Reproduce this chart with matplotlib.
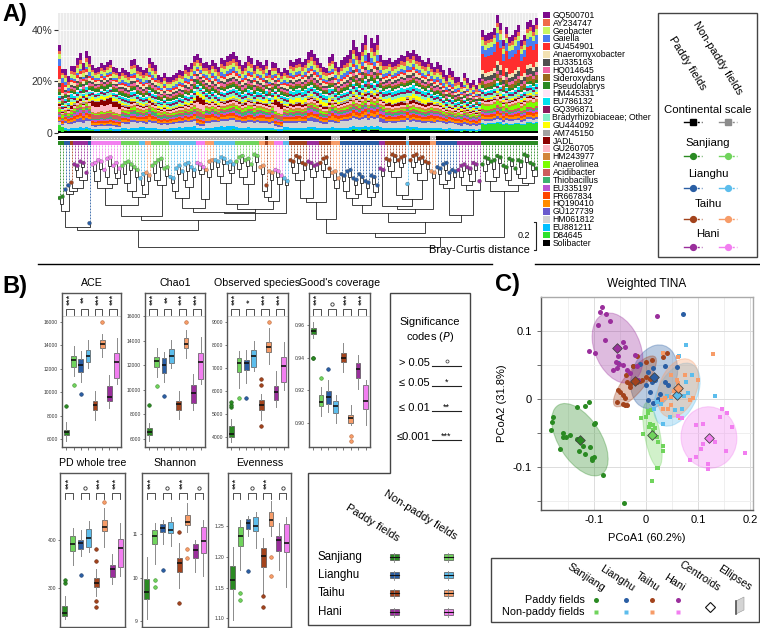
import numpy as np
import matplotlib.pyplot as plt
from matplotlib.patches import Rectangle, Ellipse, Polygon
import matplotlib.transforms as mtransforms

plt.rcParams['font.family'] = ['Liberation Sans', 'DejaVu Sans']

# ---------------- data ----------------
taxa = ['GQ500701', 'AY234747', 'Geobacter', 'Gaiella', 'GU454901', 'Anaeromyxobacter',
        'EU335163', 'HQ014645', 'Sideroxydans', 'Pseudolabrys', 'HM445331', 'EU786132',
        'GQ396871', 'Bradyrhizobiaceae; Other', 'GU444092', 'AM745150', 'JADL', 'GU260705',
        'HM243977', 'Anaerolinea', 'Acidibacter', 'Thiobacillus', 'EU335197', 'FR667834',
        'HQ190410', 'GU127739', 'HM061812', 'EU881211', 'D84645', 'Solibacter']
taxa_colors = ['#7d0a8c', '#f06a48', '#c9f562', '#4a7cf0', '#ff2e2e', '#f3e2b3',
               '#4f4f4f', '#f062a2', '#9a6a1c', '#2b8a22', '#ffe3f6', '#00e3ee',
               '#8b1a5c', '#82f0c8', '#ffff00', '#a2a2a2', '#8b0000', '#ffb8c4',
               '#d2853a', '#7cfc00', '#cd5c5c', '#3cb371', '#ba55d3', '#ff4500',
               '#ff8c00', '#6a5acd', '#d3d3d3', '#00bfff', '#2ee02e', '#000000']
# typical relative abundance (%) of each taxon
base_pct = [2.2, 1.3, 1.6, 1.0, 0.8, 1.1, 0.9, 0.9, 0.7, 1.0, 0.6, 0.8, 0.8, 1.0, 0.6,
            0.5, 0.5, 0.8, 0.7, 0.6, 0.7, 0.6, 0.6, 0.9, 0.8, 0.7, 2.0, 0.8, 0.4, 0.8]
site_override = {
    'SP': {'GU454901': 6.0, 'Gaiella': 3.0, 'EU335163': 1.8, 'Anaerolinea': 1.5, 'D84645': 2.5,
           'Sideroxydans': 1.5, 'Anaeromyxobacter': 1.6, 'Geobacter': 2.0, 'HM061812': 1.0,
           'GQ500701': 2.5, 'EU881211': 0.4},
    'HN': {'JADL': 2.5, 'GU260705': 2.5, 'Acidibacter': 2.0, 'GU444092': 1.2,
           'Pseudolabrys': 1.5, 'HM061812': 1.2},
    'TP': {'GU444092': 1.5, 'EU786132': 1.3, 'JADL': 0.9},
    'LP': {'Gaiella': 1.5, 'GQ500701': 3.0, 'HM061812': 2.5},
    'HP': {'GQ500701': 2.5, 'EU335197': 1.0, 'GU127739': 1.2},
    'LN': {'EU881211': 1.2, 'Gaiella': 1.2},
    'TN': {'FR667834': 1.2, 'HQ190410': 1.2},
    'SN': {'Thiobacillus': 0.9, 'Anaerolinea': 0.8},
}
site_colors = {'SP': '#2a8a22', 'SN': '#70d45c', 'LP': '#2a5ea4', 'LN': '#5cbdec',
               'TP': '#a3431c', 'TN': '#f79c68', 'HP': '#9a2e9c', 'HN': '#f27ef0'}
site_order = ['SP', 'SN', 'LP', 'LN', 'TP', 'TN', 'HP', 'HN']

# sample order along the dendrogram (run-length encoded)
site_runs = [('SP', 2), ('LP', 2), ('TP', 1), ('HP', 5), ('LP', 1), ('HN', 10), ('SN', 6),
             ('LN', 2), ('TN', 2), ('SN', 6), ('LN', 9), ('HN', 3), ('TN', 3), ('LN', 7),
             ('SN', 8), ('TN', 2), ('TP', 1), ('TN', 2), ('HN', 3), ('LN', 2), ('TP', 6),
             ('HP', 4), ('TP', 4), ('TN', 3), ('LP', 13), ('HP', 2), ('TP', 7), ('LN', 1),
             ('TP', 7), ('TN', 2), ('LP', 7), ('HP', 8), ('SP', 19)]
# summed relative abundance (%) of the 30 taxa per sample
bar_totals = [34, 25, 25, 22, 26, 26, 29, 31, 27, 32, 30,
              26.4, 25.2, 25.6, 27.2, 26.4, 27.6, 28.4, 25.6, 25.2, 23.7,
              25.2, 24.5, 23.7, 28.4, 28.8, 26.4, 25.6, 24.5, 25.2, 29,
              27.6, 26.4, 22.5, 21.7, 23.3, 21.7,
              21.7, 22.5, 23.3, 24.5, 24.1, 26.4, 25.6, 27.2, 29.8,
              30.5, 29, 27.2, 27.6, 26.4, 28.4,
              27.2, 25.6, 29, 28.4, 29.8, 30.5, 31.3,
              29.8, 28.4, 26.4, 27.6, 29.8, 29, 26.4, 28.4,
              27.6, 26.4, 28.4, 24.5, 27.6, 27.2, 25.2, 23.7, 25.2, 24.5,
              28.4, 27.6, 28.8, 29.2, 27.6, 28.8, 31.3, 32.4, 30.5, 29.2,
              27.2, 25.6, 25.2, 29.5, 30.5, 27.6, 25.6,
              28.4, 29.5, 30.3, 32.2, 36.1, 33.4, 31.5, 35, 38, 31, 36.9, 35, 38,
              30.3, 28.4, 28.4, 29.1, 27.6, 28.4, 29.1, 30.3, 29.8, 32,
              31.1, 32.4, 30.5, 29.8, 28.4, 27.6, 29.1, 27.2, 25.6,
              27.6, 26.4, 24.5, 22.5, 25.2, 24.1, 21.7,
              21.7, 19.8, 23.3, 21.4, 19.4, 20.6, 18.6, 21.4,
              40, 38.1, 38.8, 39.2, 40.8, 45.8, 42.7, 36.1, 41.1, 37.3,
              38.1, 40, 41.9, 36.1, 38.1, 43.1, 43.9, 41.9, 44.7]

# dendrogram: merge height (Bray-Curtis distance x100 above root) between neighbouring samples
join_h = [31, 26, 38, 40, 42, 55, 50, 57, 48, 14, 12,
          54, 47, 56, 42, 50, 58, 45, 53, 49, 30,
          52, 46, 55, 40, 50, 36, 44, 38, 47, 22,
          53, 48, 57, 44, 51, 19,
          46, 40, 52, 35, 48, 54, 43, 50, 28,
          55, 52, 34, 50, 56, 25,
          57, 51, 59, 46, 55, 53, 31,
          56, 60, 50, 58, 45, 54, 61, 27,
          52, 40, 36, 48, 33, 50, 45, 24, 44, 0,
          57, 53, 60, 48, 55, 35, 56, 50, 54, 32, 55, 59, 50, 20, 48, 42, 10,
          47, 40, 50, 35, 44, 38, 46, 30, 42, 36, 45, 39, 24,
          51, 29, 58, 54, 61, 50, 57, 60, 37, 34,
          57, 61, 53, 59, 48, 56, 27, 49, 18,
          52, 45, 55, 48, 42, 50, 23,
          50, 54, 44, 52, 47, 55, 41, 7,
          54, 59, 47, 56, 50, 60, 40, 53, 48, 58, 44, 52, 57, 49, 61, 46, 55, 51]
# height of each leaf tip
leaf_h = [35, 36, 41, 44, 46, 59, 58, 61, 60, 53, 17,
          59, 60, 62, 61, 55, 63, 64, 58, 60, 56,
          58, 60, 61, 59, 57, 55, 49, 52, 53, 51,
          58, 60, 62, 63, 56, 57,
          50, 49, 56, 58, 54, 59, 60, 57, 55,
          60, 59, 57, 55, 61, 62,
          62, 61, 64, 63, 60, 61, 59,
          61, 64, 65, 62, 63, 59, 66, 65,
          57, 58, 44, 54, 53, 55, 54, 51, 49, 47,
          62, 61, 65, 64, 60, 59, 61, 60, 58, 59, 60, 63, 64, 56, 53, 54, 49,
          52, 51, 54, 55, 49, 48, 52, 50, 47, 46, 51, 50, 44,
          56, 55, 63, 62, 66, 65, 62, 64, 65, 45,
          62, 65, 66, 63, 64, 61, 60, 54, 53,
          57, 56, 59, 60, 53, 55, 54,
          55, 58, 59, 57, 56, 60, 59, 47,
          59, 64, 63, 61, 62, 65, 64, 58, 57, 63, 62, 56, 62, 61, 66, 65, 60, 59, 56]

# alpha diversity boxplot statistics: (whisker low, q1, median, q3, whisker high, outliers)
# order: Sanjiang P/NP, Lianghu P/NP, Taihu P/NP, Hani P/NP
ace_stats = [(5800, 6370, 6600, 6800, 7450, [8850]), (11350, 12150, 12780, 13120, 13920, [10600]),
             (10850, 11730, 12350, 12840, 13500, [9880]), (12070, 12580, 13070, 13640, 14500, []),
             (7650, 8510, 8930, 9220, 10070, []), (13000, 13780, 14120, 14430, 15000, [16000]),
             (8650, 9220, 9560, 10560, 11500, []), (10730, 11210, 12580, 13350, 14660, [])]
chao1_stats = [(5870, 6330, 6540, 6870, 7270, [8760]), (11070, 11830, 12370, 12700, 13370, [10340]),
               (10660, 11340, 12020, 12560, 13100, [9500]), (11750, 12150, 12750, 13290, 14050, []),
               (7600, 8360, 8820, 9120, 9900, []), (12560, 13430, 13700, 14210, 14860, [15540]),
               (8360, 8950, 9770, 10390, 11280, []), (10470, 10850, 12290, 12960, 14320, [])]
obs_stats = [(3810, 4000, 4150, 4490, 4780, [5330, 5400, 5550]), (6130, 6860, 7220, 7430, 7770, [5700]),
             (6350, 6930, 7250, 7360, 7800, [5700]), (6900, 7040, 7540, 7800, 8200, []),
             (4750, 5190, 5400, 5620, 5900, [6270, 6520, 4470]), (7170, 7720, 7940, 8160, 8740, [9030]),
             (5300, 5620, 5970, 6230, 6900, []), (6060, 6420, 7100, 7510, 8160, [])]
goods_stats = [(0.9518, 0.9545, 0.9565, 0.958, 0.9616, [0.940, 0.9395]),
               (0.9041, 0.910, 0.9129, 0.917, 0.9221, [0.9277]),
               (0.9068, 0.9113, 0.9156, 0.9197, 0.926, [0.9328]),
               (0.8996, 0.9058, 0.9103, 0.9135, 0.917, []),
               (0.9313, 0.9371, 0.940, 0.9426, 0.9487, []),
               (0.8986, 0.8996, 0.9027, 0.9047, 0.9109, [0.8918, 0.8888]),
               (0.9209, 0.9272, 0.933, 0.9369, 0.9416, []),
               (0.8986, 0.9084, 0.9135, 0.9232, 0.9262, [])]
pd_stats = [(236, 242.8, 248.3, 263.4, 284, [312, 317]), (348, 377, 391.7, 409, 424, []),
            (367, 381, 394.5, 400, 420.7, [327]), (376, 385, 404.8, 422, 440, []),
            (284, 302, 311.7, 320.7, 341, [382, 357, 273, 261]), (386, 419, 427.6, 441, 466, [478]),
            (310, 323, 339, 348, 372, []), (325.5, 345, 384, 403, 434.5, [])]
shannon_stats = [(9.05, 9.51, 9.68, 9.966, 10.48, []), (10.31, 10.78, 10.96, 11.11, 11.26, [9.95, 9.78]),
                 (10.78, 11.05, 11.14, 11.23, 11.34, [10.18]), (10.74, 11.04, 11.1, 11.29, 11.41, []),
                 (9.75, 10.12, 10.33, 10.46, 10.81, [11.05, 9.42]),
                 (11.06, 11.21, 11.29, 11.46, 11.72, [10.66, 10.46]),
                 (10.12, 10.46, 10.65, 10.77, 10.87, []), (10.03, 10.58, 10.85, 11.17, 11.34, [])]
even_stats = [(1.097, 1.148, 1.162, 1.185, 1.216, []), (1.178, 1.217, 1.233, 1.249, 1.259, [1.141, 1.130]),
              (1.233, 1.245, 1.254, 1.262, 1.266, [1.177]), (1.214, 1.241, 1.25, 1.265, 1.273, []),
              (1.140, 1.184, 1.201, 1.215, 1.230, [1.136, 1.119]),
              (1.233, 1.25, 1.26, 1.273, 1.29, [1.199, 1.1685]),
              (1.179, 1.21, 1.227, 1.234, 1.254, []), (1.151, 1.208, 1.223, 1.253, 1.264, [])]
# paddy vs non-paddy significance per region (Sanjiang, Lianghu, Taihu, Hani)
sig_ace = ['***', '**', '***', '***']
sig_chao1 = ['***', '**', '***', '***']
sig_obs = ['***', '*', '***', '***']
sig_goods = ['***', 'o', '***', '***']
sig_pd = ['***', 'o', '***', '***']
sig_shannon = ['***', 'o', '***', 'o']
sig_even = ['***', 'o', '***', 'o']

# PCoA coordinates (weighted TINA)
sp_pts = [(-0.179, -0.027), (-0.181, -0.033), (-0.183, -0.045), (-0.165, -0.074), (-0.160, -0.050),
          (-0.154, -0.055), (-0.147, -0.053), (-0.159, -0.056), (-0.132, -0.011), (-0.117, -0.010),
          (-0.109, -0.005), (-0.100, -0.036), (-0.098, -0.035), (-0.122, -0.069), (-0.128, -0.077),
          (-0.117, -0.081), (-0.108, -0.071), (-0.104, -0.087), (-0.103, -0.090), (-0.100, -0.085),
          (-0.083, -0.112), (-0.042, -0.152), (-0.132, -0.059)]
sn_pts = [(-0.010, -0.028), (-0.006, -0.051), (0.001, -0.026), (0.004, -0.021), (0.008, -0.036),
          (0.013, -0.038), (0.017, -0.043), (0.021, -0.055), (0.024, -0.063), (0.033, -0.077),
          (0.032, -0.069), (0.021, -0.102), (0.024, -0.101), (0.012, -0.120), (0.003, -0.017),
          (0.005, -0.041), (0.014, -0.046), (0.009, -0.016)]
lp_pts = [(0.072, 0.125), (0.037, 0.049), (0.059, 0.047), (0.014, 0.045), (-0.024, 0.049),
          (-0.053, 0.053), (0.004, 0.040), (0.011, 0.025), (0.017, 0.028), (0.001, 0.021),
          (0.008, 0.011), (0.004, -0.002), (0.014, -0.006), (0.024, 0.000), (0.037, 0.025),
          (0.043, 0.021), (0.027, 0.008), (-0.012, 0.052)]
ln_pts = [(0.077, 0.080), (0.064, 0.063), (0.133, 0.004), (0.033, -0.036), (0.046, -0.026),
          (0.056, -0.016), (0.059, 0.003), (0.081, 0.009), (0.073, 0.004), (0.028, -0.007),
          (0.040, 0.004), (0.049, 0.001), (0.069, -0.014), (0.021, -0.004), (0.016, -0.014),
          (0.078, 0.025), (0.088, 0.035)]
tp_pts = [(0.040, 0.068), (0.033, 0.062), (0.011, 0.057), (0.001, 0.055), (-0.018, 0.063),
          (-0.038, 0.035), (-0.037, 0.025), (-0.031, 0.022), (-0.018, 0.025), (-0.012, 0.027),
          (-0.008, 0.028), (-0.053, 0.013), (-0.050, 0.011), (-0.044, 0.006), (-0.040, 0.002),
          (-0.056, -0.005), (-0.045, -0.007), (-0.040, -0.009), (-0.037, -0.009), (-0.031, 0.018),
          (0.001, 0.033), (0.008, 0.030), (-0.024, 0.048)]
tn_pts = [(0.062, 0.062), (0.129, 0.066), (0.101, 0.028), (0.075, 0.035), (0.049, 0.035),
          (0.059, 0.028), (0.062, 0.024), (0.065, 0.013), (0.053, 0.012), (0.049, 0.003),
          (0.037, 0.002), (0.030, -0.002), (0.033, -0.014), (0.043, -0.014), (0.049, -0.009),
          (0.065, -0.028), (0.085, -0.002), (0.091, 0.001), (0.033, 0.067)]
hp_pts = [(-0.088, 0.128), (-0.076, 0.125), (-0.092, 0.109), (-0.069, 0.114), (-0.079, 0.087),
          (-0.044, 0.084), (-0.040, 0.077), (-0.109, 0.071), (-0.098, 0.068), (-0.053, 0.063),
          (-0.058, 0.055), (-0.051, 0.052), (-0.045, 0.050), (-0.063, 0.043), (-0.056, 0.045),
          (-0.037, 0.043), (-0.031, 0.038), (-0.021, 0.065), (-0.018, 0.048), (-0.015, 0.028),
          (0.022, 0.122), (-0.085, 0.135)]
hn_pts = [(0.146, -0.015), (0.165, -0.041), (0.155, -0.021), (0.097, -0.085), (0.106, -0.074),
          (0.110, -0.066), (0.120, -0.103), (0.120, -0.095), (0.154, -0.076), (0.190, -0.079),
          (0.085, -0.090), (0.069, -0.028), (0.062, -0.025), (0.142, -0.026), (0.110, -0.036),
          (0.133, -0.063), (0.097, -0.038)]

# ---------------- layout helpers ----------------
W, H = 760, 628
fig = plt.figure(figsize=(7.6, 6.28), dpi=100)


def px_axes(x0, y0, x1, y1):
    return fig.add_axes([x0 / W, 1 - y1 / H, (x1 - x0) / W, (y1 - y0) / H])


sites = [s for s, n in site_runs for _ in range(n)]
N = len(sites)
assert len(bar_totals) == N and len(leaf_h) == N and len(join_h) == N - 1
xs = np.arange(N)

# ---------------- A) stacked bars ----------------
axA = px_axes(58, 13, 538, 133)
axA.set_facecolor('#ebebeb')
profiles = {}
for s in site_order:
    p = np.array([site_override.get(s, {}).get(t, b) for t, b in zip(taxa, base_pct)])
    profiles[s] = p / p.sum()
comp = np.array([profiles[s] * tot for s, tot in zip(sites, bar_totals)])
bottom = np.zeros(N)
for k in range(len(taxa) - 1, -1, -1):
    axA.bar(xs, comp[:, k], bottom=bottom, width=1.0, color=taxa_colors[k], linewidth=0)
    bottom += comp[:, k]
axA.set_xlim(-0.5, N - 0.5)
axA.set_ylim(0, 46.6)
axA.set_yticks([0, 20, 40])
axA.set_yticklabels(['0', '20%', '40%'], fontsize=7.5, color='#333')
axA.set_yticks([10, 30], minor=True)
axA.set_xticks(xs)
axA.tick_params(axis='x', length=0, labelbottom=False)
axA.tick_params(axis='y', which='major', length=3, color='#333', pad=1)
axA.tick_params(axis='y', which='minor', length=0)
axA.grid(axis='x', color='white', lw=0.5)
axA.grid(axis='y', which='both', color='white', lw=0.6)
axA.set_axisbelow(True)
for sp in axA.spines.values():
    sp.set_visible(False)

# ---------------- A) dendrogram ----------------
axT = px_axes(58, 133, 538, 252)
axT.set_xlim(-0.5, N - 0.5)
axT.set_ylim(-3.57, 81.43)
axT.axis('off')
paddy = np.array([s.endswith('P') for s in sites])
axT.bar(xs, 2.9, bottom=76.4, width=1.0, linewidth=0,
        color=['#000000' if p else '#b4b4b4' for p in paddy])
axT.scatter(xs[~paddy], np.full((~paddy).sum(), 77.85), s=0.4, c='white', lw=0)
axT.bar(xs, 2.5, bottom=73.2, width=1.0, linewidth=0, color=[site_colors[s] for s in sites])
for i in range(N):
    axT.plot([i, i], [73.2, leaf_h[i]], color=site_colors[sites[i]], lw=0.6,
             ls=(0, (2.2, 1.4)))


def draw_clade(a, b):
    if a == b:
        return float(a), leaf_h[a]
    k = a + int(np.argmin(join_h[a:b]))
    h = join_h[k]
    lx, ly = draw_clade(a, k)
    rx, ry = draw_clade(k + 1, b)
    axT.plot([lx, lx, rx, rx], [ly, h, h, ry], color='#222', lw=0.6,
             solid_joinstyle='miter')
    return (lx + rx) / 2, h


draw_clade(0, N - 1)
axT.scatter(xs, leaf_h, s=8, c=[site_colors[s] for s in sites], edgecolors='#555',
            linewidths=0.2, zorder=3)
axT.plot([158.2, 158.8, 158.8, 158.2], [-2.1, -2.1, 17.9, 17.9], color='#222', lw=0.8,
         clip_on=False)
axT.text(156.8, 7.9, '0.2', fontsize=6.5, ha='right', va='center')
axT.text(156.8, -2.1, 'Bray-Curtis distance', fontsize=8, ha='right', va='center')

# ---------------- B) boxplots ----------------
box_panels = [
    ('ACE', ace_stats, sig_ace, (62, 293, 121, 447), (5316, 18480), range(6000, 16001, 2000), '%d'),
    ('Chao1', chao1_stats, sig_chao1, (145, 293, 205, 447), (5350, 17870), range(6000, 16001, 2000), '%d'),
    ('Observed species', obs_stats, sig_obs, (227, 293, 288, 447), (3578, 10275), range(4000, 9001, 1000), '%d'),
    ("Good's coverage", goods_stats, sig_goods, (309, 293, 370, 447), (0.8851, 0.9797), [0.90, 0.92, 0.94, 0.96], '%.2f'),
    ('PD whole tree', pd_stats, sig_pd, (60, 473, 125, 627), (220, 538.7), [300, 400], '%d'),
    ('Shannon', shannon_stats, sig_shannon, (142, 473, 208, 627), (8.86, 12.42), [9, 10, 11], '%d'),
    ('Evenness', even_stats, sig_even, (228, 473, 291, 627), (1.0859, 1.336), [1.10, 1.15, 1.20, 1.25], '%.2f'),
]
dark_edge = {'SP': '#1d5e18', 'SN': '#3e8f30', 'LP': '#1b3d6c', 'LN': '#2f7aa6',
             'TP': '#6b2a10', 'TN': '#b8683a', 'HP': '#631c66', 'HN': '#b04cae'}
for title, stats, sig, (x0, y0, x1, y1), ylim, ticks, fmt in box_panels:
    ax = px_axes(x0, y0, x1, y1)
    bxp = [dict(whislo=s[0], q1=s[1], med=s[2], q3=s[3], whishi=s[4], fliers=s[5]) for s in stats]
    res = ax.bxp(bxp, positions=range(1, 9), widths=0.62, patch_artist=True, showcaps=False,
                 boxprops=dict(edgecolor='#555', lw=0.5),
                 medianprops=dict(color='#111', lw=1.2),
                 whiskerprops=dict(color='#8a8a8a', lw=0.7),
                 flierprops=dict(marker='o', markersize=2.6, markeredgewidth=0.4))
    for patch, s in zip(res['boxes'], site_order):
        patch.set_facecolor(site_colors[s])
    for fl, s in zip(res['fliers'], site_order):
        fl.set_markerfacecolor(site_colors[s])
        fl.set_markeredgecolor(dark_edge[s])
    ax.set_xlim(0.4, 8.6)
    ax.set_ylim(*ylim)
    ax.set_yticks(list(ticks))
    ax.set_yticklabels([fmt % t for t in ticks], fontsize=3.6, color='#333')
    ax.set_xticks(range(1, 9))
    ax.set_xticklabels([])
    ax.tick_params(axis='both', length=1.8, width=0.5, color='#444', pad=1)
    for sp in ax.spines.values():
        sp.set_color('#555')
        sp.set_linewidth(1.0)
    blend = mtransforms.blended_transform_factory(ax.transData, ax.transAxes)
    row1 = y0 < 400
    top_f, leg_f, star_f = (0.896, 0.857, 0.960) if row1 else (0.870, 0.831, 0.934)
    if row1:
        ax.plot([0.4, 8.6], [0.851, 0.851], transform=blend, color='#cfcfcf', lw=0.6)
    for j, mark in enumerate(sig):
        a, b = 2 * j + 1, 2 * j + 2
        ax.plot([a, a, b, b], [leg_f, top_f, top_f, leg_f], transform=blend, color='#333', lw=0.6)
        if mark == 'o':
            ax.plot([(a + b) / 2], [top_f + 0.03], transform=blend, marker='o', ms=2.4,
                    mfc='none', mec='#333', mew=0.6)
        else:
            ax.text((a + b) / 2, star_f if len(mark) == 3 else top_f + 0.035 + 0.014 * len(mark),
                    mark, transform=blend, rotation=90, fontsize=6.8, ha='center', va='center')
    fig.text((x0 + x1) / 2 / W, 1 - (y0 - 10) / H, title, fontsize=7.7, ha='center', va='center')

# ---------------- C) PCoA ----------------
axC = px_axes(541, 297, 753, 510)
groups = [('SP', sp_pts, 'o'), ('SN', sn_pts, 's'), ('LP', lp_pts, 'o'), ('LN', ln_pts, 's'),
          ('TP', tp_pts, 'o'), ('TN', tn_pts, 's'), ('HP', hp_pts, 'o'), ('HN', hn_pts, 's')]
for s, pts, mk in groups:
    arr = np.array(pts)
    cx, cy = arr.mean(axis=0)
    vals, vecs = np.linalg.eigh(np.cov(arr.T))
    ang = np.degrees(np.arctan2(vecs[1, 1], vecs[0, 1]))
    ell = Ellipse((cx, cy), 2 * 1.55 * np.sqrt(vals[1]), 2 * 1.55 * np.sqrt(vals[0]), angle=ang,
                  facecolor=site_colors[s], edgecolor=site_colors[s], alpha=0.32, lw=0.8, zorder=1)
    axC.add_patch(ell)
for s, pts, mk in groups:
    arr = np.array(pts)
    axC.scatter(arr[:, 0], arr[:, 1], s=13 if mk == 'o' else 11, marker=mk, c=site_colors[s],
                lw=0, zorder=2)
for s, pts, mk in groups:
    cx, cy = np.array(pts).mean(axis=0)
    axC.scatter([cx], [cy], marker='D', s=24, c=site_colors[s], edgecolors='#444', lw=0.6, zorder=3)
axC.set_xlim(-0.202, 0.206)
axC.set_ylim(-0.163, 0.150)
axC.set_xticks([-0.1, 0, 0.1, 0.2])
axC.set_xticklabels(['-0.1', '0', '0.1', '0.2'], fontsize=8)
axC.set_yticks([-0.1, 0, 0.1])
axC.set_yticklabels(['-0.1', '0', '0.1'], fontsize=8)
axC.set_xticks([-0.15, -0.05, 0.05, 0.15], minor=True)
axC.set_yticks([-0.15, -0.05, 0.05], minor=True)
axC.grid(which='major', color='#dcdcdc', lw=0.7)
axC.grid(which='minor', color='#ececec', lw=0.6)
axC.set_axisbelow(True)
axC.tick_params(which='both', length=3, color='#555', width=0.6)
axC.tick_params(axis='x', which='both', length=0)
for name, sp in axC.spines.items():
    sp.set_color('#555' if name in ('left', 'bottom') else '#aaaaaa')
    sp.set_linewidth(1.0)
axC.set_xlabel('PCoA1 (60.2%)', fontsize=8, labelpad=6)
axC.set_ylabel('PCoA2 (31.8%)', fontsize=8, labelpad=4)
axC.set_title('Weighted TINA', fontsize=8.5, pad=7)

# ---------------- overlay: labels, legends, frames ----------------
ov = fig.add_axes([0, 0, 1, 1])
ov.set_xlim(0, W)
ov.set_ylim(H, 0)
ov.axis('off')
ov.set_zorder(10)
ov.patch.set_visible(False)

for lab, (x, y) in zip(['A)', 'B)', 'C)'], [(2, 15), (2, 287), (495, 284)]):
    ov.text(x, y, lab, fontsize=17, fontweight='bold', ha='left', va='center')
ov.plot([38, 492], [264, 264], color='k', lw=1)
ov.plot([535, 760], [264, 264], color='k', lw=1)

# taxa legend
for k, (t, c) in enumerate(zip(taxa, taxa_colors)):
    y = 15 + 7.86 * k
    ov.add_patch(Rectangle((543, y - 3.4), 7, 6.8, facecolor=c, edgecolor='none'))
    ov.text(552.5, y + 0.3, t, fontsize=6.2, ha='left', va='center')

# A legend box
ov.add_patch(Rectangle((658, 13), 99, 244, fill=False, edgecolor='#444', lw=1))
ov.text(667, 40, 'Paddy fields', rotation=-58, rotation_mode='anchor', fontsize=8,
        ha='left', va='bottom')
ov.text(691, 25, 'Non-paddy fields', rotation=-58, rotation_mode='anchor', fontsize=8,
        ha='left', va='bottom')
legA = [('Continental scale', '#000000', '#8c8c8c', 's'),
        ('Sanjiang', site_colors['SP'], site_colors['SN'], 'o'),
        ('Lianghu', site_colors['LP'], site_colors['LN'], 'o'),
        ('Taihu', site_colors['TP'], site_colors['TN'], 'o'),
        ('Hani', site_colors['HP'], site_colors['HN'], 'o')]
for (lab, c1, c2, mk), yl, ym in zip(legA, [110, 143, 174, 204, 234], [122, 156, 188, 219, 247]):
    ov.text(708, yl, lab, fontsize=8.2, ha='center', va='center')
    for xm, c in ((693, c1), (728, c2)):
        ov.plot([xm - 9, xm], [ym, ym], color=c, lw=1.0)
        ov.plot([xm, xm + 9], [ym, ym], color=c, lw=1.0, ls=(0, (1.5, 1.5)))
        ov.plot([xm], [ym], marker=mk, ms=4.2, color=c, mec=c)

# B significance codes + legend frame
ov.add_patch(Polygon([(390, 293), (470, 293), (470, 625), (308, 625), (308, 473), (390, 473)],
                     closed=True, fill=False, edgecolor='#444', lw=1))
ov.text(430, 322, 'Significance', fontsize=8, ha='center', va='center')
ov.text(430, 337, 'codes ($\\it{P}$)', fontsize=8, ha='center', va='center')
for lab, mark, yt in [('> 0.05', 'o', 363), ('\u2264 0.05', '*', 383),
                      ('\u2264 0.01', '**', 408), ('\u22640.001', '***', 437)]:
    ov.text(430, yt, lab, fontsize=8, ha='right', va='center')
    ov.plot([432, 461], [yt + 3, yt + 3], color='#222', lw=0.8)
    if mark == 'o':
        ov.plot([446.5], [yt - 2.5], marker='o', ms=2.2, mfc='none', mec='#333', mew=0.5)
    else:
        ov.text(446.5, yt - 0.5, mark, fontsize=6.5, ha='center', va='center')
ov.text(344, 511, 'Paddy fields', rotation=-32, rotation_mode='anchor', fontsize=8,
        ha='left', va='bottom')
ov.text(382, 497, 'Non-paddy fields', rotation=-32, rotation_mode='anchor', fontsize=8,
        ha='left', va='bottom')
for s1, s2, lab, y in [('SP', 'SN', 'Sanjiang', 557), ('LP', 'LN', 'Lianghu', 575),
                       ('TP', 'TN', 'Taihu', 593), ('HP', 'HN', 'Hani', 612)]:
    ov.text(318, y, lab, fontsize=8.3, ha='left', va='center')
    for xm, s in ((394, s1), (448, s2)):
        ov.plot([xm, xm], [y - 4.5, y + 4.5], color='#888', lw=0.6)
        ov.add_patch(Rectangle((xm - 4.5, y - 3), 9, 6, facecolor=site_colors[s],
                               edgecolor='#555', lw=0.5))
        ov.plot([xm - 4.5, xm + 4.5], [y, y], color='#111', lw=0.8)

# C legend
ov.add_patch(Rectangle((491, 558), 268, 64, fill=False, edgecolor='#444', lw=1))
for lab, xe in [('Sanjiang', 601), ('Lianghu', 631), ('Taihu', 656), ('Hani', 681),
                ('Centroids', 717), ('Ellipses', 748)]:
    ov.text(xe, 593, lab, rotation=-33, rotation_mode='anchor', fontsize=7.8,
            ha='right', va='bottom')
ov.text(585, 600, 'Paddy fields', fontsize=7.8, ha='right', va='center')
ov.text(585, 612, 'Non-paddy fields', fontsize=7.8, ha='right', va='center')
for (p, npd), xm in zip([('SP', 'SN'), ('LP', 'LN'), ('TP', 'TN'), ('HP', 'HN')],
                        [596, 626, 652, 678]):
    ov.plot([xm], [600], marker='o', ms=3.6, color=site_colors[p], mec='none')
    ov.plot([xm], [612], marker='s', ms=3.2, color=site_colors[npd], mec='none')
ov.plot([710], [607], marker='D', ms=5.5, mfc='white', mec='#111', mew=0.8)
ov.add_patch(Polygon([(736, 601), (744, 597), (744, 610), (736, 614)], closed=True,
                     facecolor='#d4d4d4', edgecolor='#999', lw=0.4))
ov.plot([736, 736], [601, 614], color='#555', lw=1.2)

fig.savefig('out.png', dpi=100)
